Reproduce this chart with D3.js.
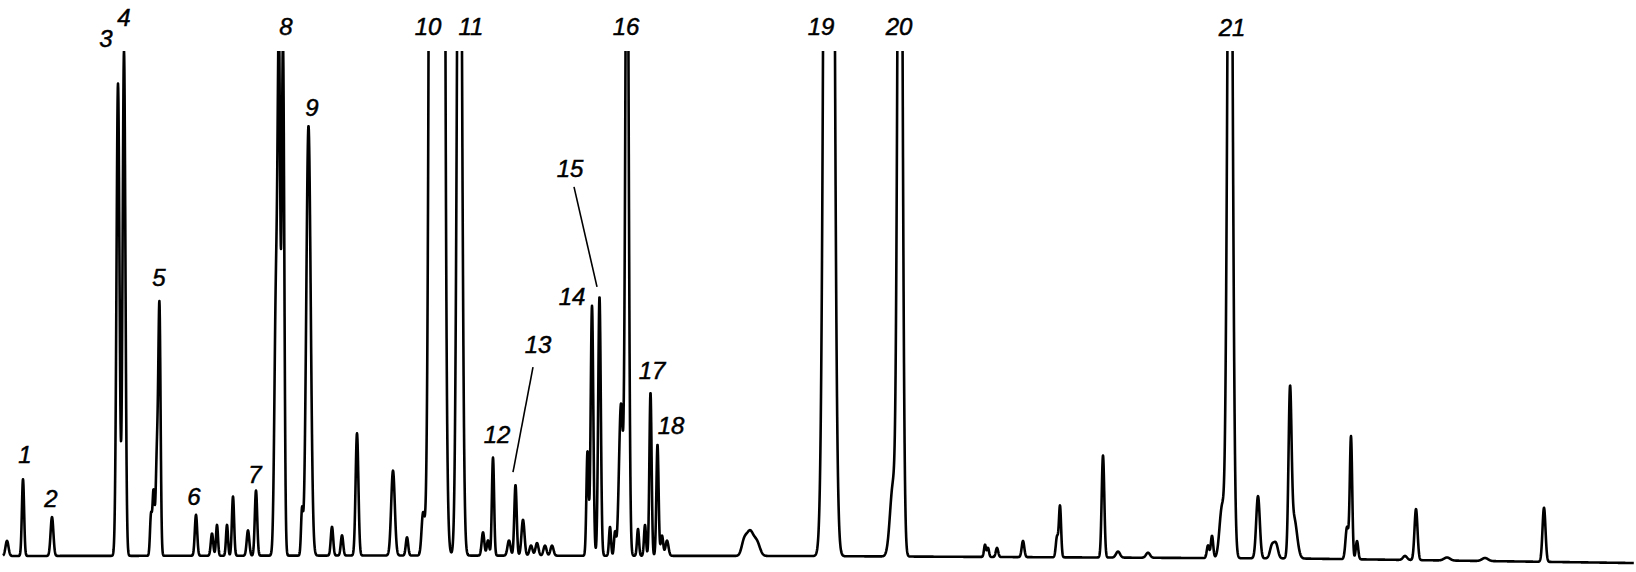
<!DOCTYPE html>
<html>
<head>
<meta charset="utf-8">
<script src="https://cdn.jsdelivr.net/npm/d3@7"></script>
<style>
  html, body { margin: 0; padding: 0; background: #fff; }
  svg { display: block; }
</style>
</head>
<body>
<svg id="chart" width="1636" height="572"></svg>
<script>
// ---- Data (retention time in min, detector response in % of full scale) ----
const peakTimes = [0.35, 1.15, 2.6, 5.9, 6.2, 7.55, 7.675, 7.85, 7.975, 9.8, 10.6, 10.85, 11.35, 11.65,
  12.4, 12.8, 13.8, 13.95, 14.15, 15.1, 15.425, 16.6, 17.1, 17.85, 19.65, 20.35, 21.15, 21.85, 22.975,
  24.15, 24.4, 24.65, 25.45, 25.775, 26.15, 26.55, 26.85, 27.25, 27.6, 29.375, 29.6, 29.975, 30.5, 30.75,
  31.05, 31.35, 31.9, 32.25, 32.525, 32.875, 33.1, 33.35, 37.2, 37.5, 37.85, 41.45, 44.65, 45.0,
  49.25, 49.4, 49.85, 51.15, 52.85, 53.0, 55.15, 55.9, 57.4, 60.4, 60.6, 61.1, 61.5, 62.9, 63.6, 63.8,
  64.5, 64.7, 67.35, 67.55, 67.85, 70.25, 70.8, 72.35, 74.25, 77.2];
const peakHeights = [3.0, 15.2, 7.7, 93.5, 100, 8, 12.3, 20, 47, 8.1, 4.4, 6.1, 6.1, 11.7,
  5.0, 12.9, 50.9, 96, 101, 8.5, 85.1, 5.7, 4.0, 24.2, 16.8, 3.6, 8, 2060, 184,
  4.6, 3, 19.4, 3, 14, 7.1, 2, 2.5, 2, 2, 20.6, 49.5, 51.3, 5.7, 4.5,
  30, 150, 5.3, 6.1, 32.3, 22, 4, 3, 2.5, 4.8, 2.5, 443, 14, 200,
  2.4, 1.8, 1.8, 3.2, 4, 10.1, 20.2, 1.2, 1.0, 2.5, 4.4, 10, 180, 12.3, 2.5, 2.8,
  30.9, 8, 6.3, 24.2, 3.6, 0.8, 10.1, 0.6, 0.6, 10.7];
const peakWidths = [0.075, 0.055, 0.07, 0.075, 0.07, 0.05, 0.05, 0.065, 0.055, 0.06, 0.06, 0.05, 0.05, 0.055,
  0.065, 0.06, 0.08, 0.065, 0.065, 0.05, 0.11, 0.06, 0.06, 0.07, 0.09, 0.06, 0.075, 0.1725, 0.113,
  0.065, 0.06, 0.055, 0.075, 0.06, 0.075, 0.075, 0.075, 0.075, 0.075, 0.055, 0.065, 0.065, 0.05, 0.05,
  0.1, 0.08, 0.05, 0.05, 0.055, 0.055, 0.06, 0.075, 0.125, 0.175, 0.15, 0.174, 0.15, 0.11,
  0.05, 0.05, 0.06, 0.065, 0.06, 0.055, 0.065, 0.1, 0.1, 0.06, 0.06, 0.125, 0.12, 0.09, 0.1, 0.1,
  0.075, 0.15, 0.075, 0.06, 0.06, 0.1, 0.075, 0.15, 0.15, 0.075];

// baseline drift
const driftTimes = [0, 20, 40, 50, 65, 81.8];
const driftValues = [0, 0.1, 0, -0.2, -0.5, -1.4];

// peak labels: text, time, response position of text baseline
const labelTexts = ["1","2","3","4","5","6","7","8","9","10","11","12","13","14","15","16","17","18","19","20","21"];
const labelTimes = [1.25, 2.55, 5.3, 6.2, 7.95, 9.7, 12.75, 14.3, 15.6, 21.4, 23.55, 24.85, 26.9, 28.6, 28.5, 31.3, 32.6, 33.55, 41.05, 44.95, 61.6];
const labelValues = [18.4, 9.7, 100.8, 105.0, 53.5, 10.1, 14.5, 103.2, 87.1, 103.2, 103.2, 22.4, 40.2, 49.7, 75.0, 103.2, 35.0, 24.2, 103.2, 103.2, 103.0];

// leader lines [t1, v1, t2, v2]
const leaderLines = [[26.65, 37.4, 25.65, 16.6], [28.7, 73.1, 29.85, 53.3]];

// ---- Drawing ----
const W = 1636, H = 572;
const svg = d3.select("#chart");
const x = d3.scaleLinear().domain([0, 81.8]).range([0, W]);
const y = d3.scaleLinear().domain([0, 100]).range([556, 51]);
const drift = d3.scaleLinear().domain(driftTimes).range(driftValues);

svg.append("defs").append("clipPath").attr("id", "clip")
  .append("rect").attr("x", 0).attr("y", y(100)).attr("width", W).attr("height", H - y(100));

const step = x.invert(0.2) - x.invert(0);
const trace = [];
for (let t = x.invert(3); t <= x.invert(W - 2); t += step) {
  let v = drift(t);
  for (let i = 0; i < peakTimes.length; i++) {
    const d = (t - peakTimes[i]) / peakWidths[i];
    if (Math.abs(d) < 12) v += peakHeights[i] * Math.exp(-0.5 * d * d);
  }
  trace.push([t, v]);
}

const line = d3.line().x(d => x(d[0])).y(d => y(d[1]));
svg.append("path")
  .datum(trace)
  .attr("clip-path", "url(#clip)")
  .attr("d", line)
  .attr("fill", "none")
  .attr("stroke", "#000")
  .attr("stroke-width", 2.6)
  .attr("stroke-linejoin", "round");

svg.selectAll("line.leader").data(leaderLines).enter().append("line")
  .attr("class", "leader")
  .attr("x1", d => x(d[0])).attr("y1", d => y(d[1]))
  .attr("x2", d => x(d[2])).attr("y2", d => y(d[3]))
  .attr("stroke", "#000").attr("stroke-width", 1.6);

svg.selectAll("text.lbl").data(labelTexts).enter().append("text")
  .attr("class", "lbl")
  .attr("x", (d, i) => x(labelTimes[i]))
  .attr("y", (d, i) => y(labelValues[i]))
  .attr("text-anchor", "middle")
  .attr("font-family", "'Liberation Sans', Arial, sans-serif")
  .attr("font-style", "italic")
  .attr("font-size", 24)
  .attr("fill", "#000")
  .attr("stroke", "#000")
  .attr("stroke-width", 0.5)
  .text(d => d);
</script>
</body>
</html>
